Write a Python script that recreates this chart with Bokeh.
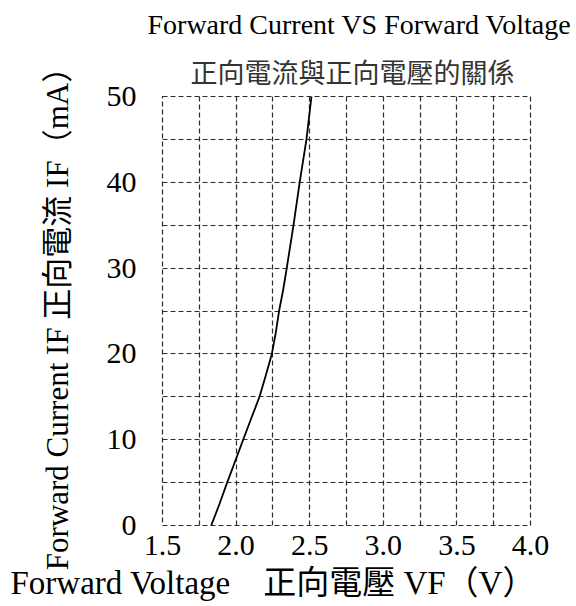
from bokeh.plotting import figure
from bokeh.models import FixedTicker, Range1d, Title
from bokeh.embed import file_html
from bokeh.resources import INLINE

# ---- data ----
current = [0, 2.5, 5, 7.5, 10, 12.5, 15, 17.5, 20, 22.5, 25, 27.5, 30, 35, 40, 45, 50]
voltage = [1.831, 1.887, 1.939, 1.994, 2.048, 2.103, 2.159, 2.202, 2.243, 2.270,
           2.292, 2.320, 2.344, 2.390, 2.432, 2.478, 2.512]

x_tick_values = [1.5, 2.0, 2.5, 3.0, 3.5, 4.0]
x_tick_labels = ["1.5", "2.0", "2.5", "3.0", "3.5", "4.0"]
y_tick_values = [0, 10, 20, 30, 40, 50]
y_tick_labels = ["0", "10", "20", "30", "40", "50"]
x_grid_values = [1.5, 1.75, 2.0, 2.25, 2.5, 2.75, 3.0, 3.25, 3.5, 3.75, 4.0]
y_grid_values = [0, 5, 10, 15, 20, 25, 30, 35, 40, 45, 50]

title_en = "Forward Current VS Forward Voltage"
title_zh = "正向電流與正向電壓的關係"
x_label = "Forward Voltage\u3000正向電壓 VF（V）"
y_label = "Forward Current IF 正向電流 IF（mA）"

SERIF = "Liberation Serif, Noto Sans CJK TC"
CJK = "Noto Sans CJK TC"
GRID = "#2b2b2b"

p = figure(width=576, height=606, output_backend="svg", toolbar_location=None,
           x_range=Range1d(1.5, 4.0), y_range=Range1d(0, 50),
           min_border_left=162, min_border_right=46, min_border_top=96,
           min_border_bottom=80)
p.background_fill_color = "white"
p.border_fill_color = "white"
p.outline_line_color = GRID
p.outline_line_dash = "5 3"
p.outline_line_width = 1.2
p.outline_line_alpha = 1.0

p.line(voltage, current, line_color="black", line_width=1.8)

for ax, vals, labs in ((p.xaxis[0], x_tick_values, x_tick_labels),
                       (p.yaxis[0], y_tick_values, y_tick_labels)):
    ax.ticker = FixedTicker(ticks=vals)
    ax.major_label_overrides = {v: l for v, l in zip(vals, labs)}
    ax.axis_line_color = None
    ax.major_tick_line_color = None
    ax.minor_tick_line_color = None
    ax.major_tick_out = 0
    ax.major_tick_in = 0
    ax.major_label_text_font = SERIF
    ax.major_label_text_font_size = "30px"
    ax.major_label_text_color = "black"

p.xaxis[0].major_label_standoff = 10
p.yaxis[0].major_label_standoff = 26

yax = p.yaxis[0]
yax.axis_label = y_label
yax.axis_label_text_font = SERIF
yax.axis_label_text_font_size = "31px"
yax.axis_label_text_font_style = "normal"
yax.axis_label_text_color = "black"
yax.axis_label_standoff = 29

p.xgrid[0].ticker = FixedTicker(ticks=x_grid_values)
p.ygrid[0].ticker = FixedTicker(ticks=y_grid_values)
for g in (p.xgrid[0], p.ygrid[0]):
    g.grid_line_color = GRID
    g.grid_line_dash = "5 3"
    g.grid_line_width = 1.2
    g.grid_line_alpha = 1.0

# titles
p.title.text = title_en
p.title.text_font = SERIF
p.title.text_font_size = "28px"
p.title.text_font_style = "normal"
p.title.text_color = "black"
p.title.align = "left"
p.title.offset = -15
p.title.standoff = 8

t_zh = Title(text=title_zh, text_font=CJK, text_font_size="27px",
             text_font_style="normal", text_color="#333333", align="left",
             offset=28, standoff=12)
p.add_layout(t_zh, "above")

t_x = Title(text=x_label, text_font=SERIF, text_font_size="33px",
            text_font_style="normal", text_color="black", align="left",
            offset=-152, standoff=11)
p.add_layout(t_x, "below")

open("out.html", "w").write(file_html(p, INLINE))
